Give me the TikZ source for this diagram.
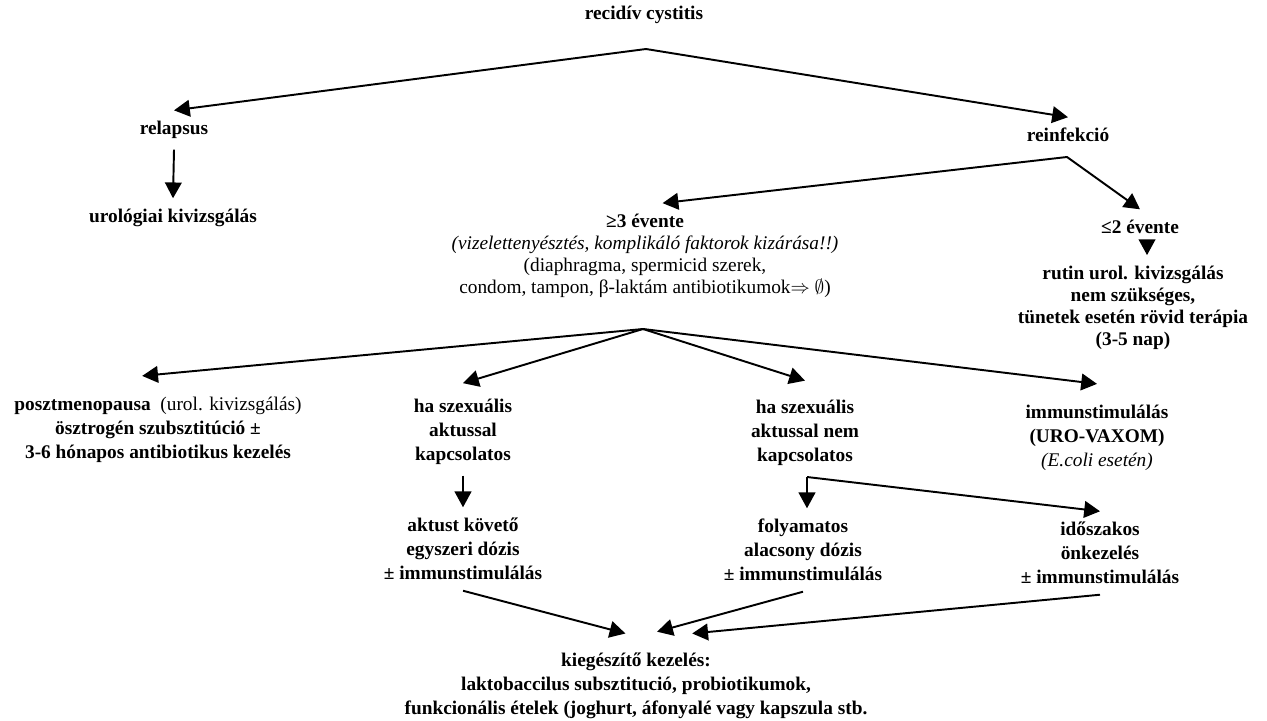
\documentclass[tikz,border=0pt]{standalone}
\usepackage{fontspec}
\setmainfont{Liberation Serif}
\usetikzlibrary{arrows.meta}

\begin{document}
\begin{tikzpicture}[x=0.02cm,y=-0.02cm,
	blk/.style={align=center,font=\fontsize{11}{12.6}\selectfont\bfseries,inner xsep=2pt,inner ysep=6pt},
	lo/.style={blk,font=\fontsize{11}{13.6}\selectfont\bfseries},
	arr/.style={line width=1.1pt,-{Triangle[length=9pt,width=9.5pt]}}]
	\useasboundingbox (0,0) rectangle (1267,720);
	% top level
	\node[blk] (rec) at (644,15) {recidív cystitis};
	\node[blk] (relapsus) at (174,130) {relapsus};
	\node[blk] (urol) at (173,218) {urológiai kivizsgálás};
	\node[blk] (reinf) at (1068,135) {reinfekció};
	\coordinate (t1) at (646,49);
	\draw[line width=1.1pt,{Triangle[length=9pt,width=9.5pt]}-{Triangle[length=9pt,width=9.5pt]}]
		(relapsus.north) -- (t1) -- (reinf.north);
	\draw[arr] (relapsus.south) -- (urol.north);
	% reinfekcio
	\node[blk] (gte3) at (645,256) {≥3 évente\\
		\mdseries\itshape (vizelettenyésztés, komplikáló faktorok kizárása!!)\\
		\mdseries (diaphragma, spermicid szerek,\\
		\mdseries condom, tampon, β-laktám antibiotikumok$\Rightarrow$ $\emptyset$)};
	\node[blk] (lte2) at (1140,227) {≤2 évente};
	\node[blk] (rutin) at (1133,308) {rutin urol. kivizsgálás\\ nem szükséges,\\ tünetek esetén rövid terápia\\ (3-5 nap)};
	\coordinate (t2) at (1067,157);
	\draw[line width=1.1pt,{Triangle[length=9pt,width=9.5pt]}-{Triangle[length=9pt,width=9.5pt]}]
		([xshift=10pt]gte3.north) -- (t2) -- (lte2.north);
	\draw[arr] ([xshift=4pt,yshift=1pt]lte2.south) -- ([xshift=4pt]lte2.south |- rutin.north);
	% >=3 evente
	\node[lo] (poszt) at (158,430) {posztmenopausa\ \ \mdseries(urol. kivizsgálás)\\ ösztrogén szubsztitúció ±\\ 3-6 hónapos antibiotikus kezelés};
	\node[lo] (haszex) at (463,432) {ha szexuális\\ aktussal\\ kapcsolatos};
	\node[lo] (nemkap) at (805,433) {ha szexuális\\ aktussal nem\\ kapcsolatos};
	\node[lo] (immun) at (1097,438) {immunstimulálás\\ (URO-VAXOM)\\ \mdseries\itshape(E.coli esetén)};
	\coordinate (t3) at (643,329);
	\draw[arr] (t3) -- ([xshift=-9pt,yshift=6pt]poszt.north);
	\draw[arr] (t3) -- ([yshift=3pt]haszex.north);
	\draw[arr] (t3) -- ([yshift=5pt]nemkap.north);
	\draw[arr] (t3) -- ([yshift=6pt]immun.north);
	% kezeles
	\node[lo] (aktust) at (463,549) {aktust követő\\ egyszeri dózis\\ ± immunstimulálás};
	\node[lo] (folyam) at (803,550) {folyamatos\\ alacsony dózis\\ ± immunstimulálás};
	\node[lo] (idosz) at (1100,553) {időszakos\\ önkezelés\\ ± immunstimulálás};
	\draw[arr] (haszex.south) -- (aktust.north);
	\coordinate (e) at (807,477);
	\draw[arr] (e) -- (e |- folyam.north);
	\draw[arr] (e) -- (idosz.north);
	% kiegeszito
	\node[lo] (kieg) at (636,686) {kiegészítő kezelés:\\ laktobaccilus subsztitució, probiotikumok,\\ funkcionális ételek (joghurt, áfonyalé vagy kapszula stb.};
	\draw[arr] (aktust.south) -- ([xshift=-6pt,yshift=5pt]kieg.north);
	\draw[arr] (folyam.south) -- ([xshift=12pt,yshift=6pt]kieg.north);
	\draw[arr] (idosz.south) -- ([xshift=32pt,yshift=5pt]kieg.north);
\end{tikzpicture}
\end{document}
